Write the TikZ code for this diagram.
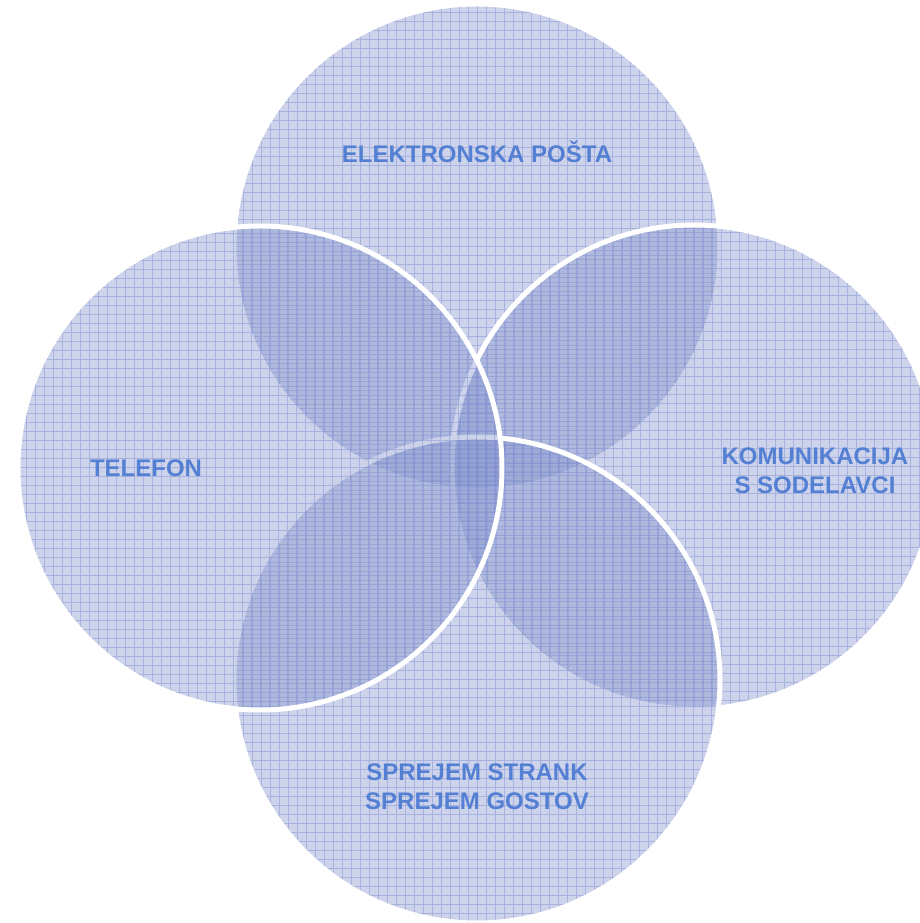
\documentclass[tikz,border=0pt]{standalone}
\usepackage{fontspec}
\setmainfont{Liberation Sans}
\usepackage{xcolor}

\definecolor{vennblue}{RGB}{135,150,205}
\definecolor{gridblue}{RGB}{115,130,205}
\definecolor{labelblue}{RGB}{84,128,212}

\tikzset{
  venn/.style={circle, inner sep=0pt, fill=vennblue, fill opacity=0.42,
    draw=white, draw opacity=1, line width=2.5pt,
    path picture={\draw[gridblue, draw opacity=0.4, line width=0.5pt, step=4.5pt]
      (path picture bounding box.south west) grid (path picture bounding box.north east);}},
  lbl/.style={text=labelblue, font=\bfseries\fontsize{12}{14.5}\selectfont, align=center}
}

\begin{document}
\begin{tikzpicture}[x=0.5pt, y=0.5pt]
      \useasboundingbox (0,0) rectangle (920,923);

      % the four circles, later ones lie over the earlier ones
      \node[venn, minimum size=243pt] (posta) at (477, 676) {};
      \node[venn, minimum size=242pt] (sodelavci) at (694, 456) {};
      \node[venn, minimum size=243pt] (stranke) at (477, 243) {};
      \node[venn, minimum size=242pt] (telefon) at (260, 455) {};

      % labels
      \node[lbl] (t1) at (477, 771) {ELEKTRONSKA POŠTA};
      \node[lbl] (t2) at (146, 455) {TELEFON};
      \node[lbl] (t3) at (815, 452) {KOMUNIKACIJA\\S SODELAVCI};
      \node[lbl] (t4) at (477, 136) {SPREJEM STRANK\\SPREJEM GOSTOV};
\end{tikzpicture}
\end{document}
